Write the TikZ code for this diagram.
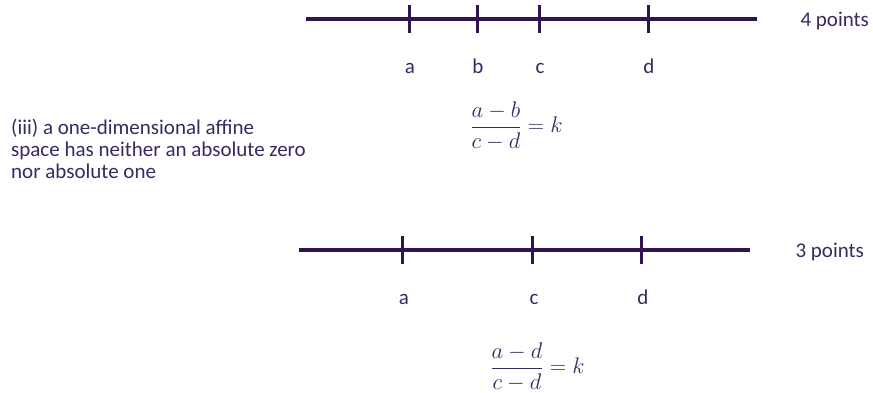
\documentclass[tikz,border=0pt]{standalone}
\usepackage{amsmath}
\usepackage{graphicx}
\usepackage{fontspec}
\setmainfont{Carlito}
\usepackage{tikz}
\usetikzlibrary{positioning}
\definecolor{LinePurple}{HTML}{2F1450}
\definecolor{TextPurple}{HTML}{3B2862}
\newcommand{\ratiobox}[1]{\scalebox{1.09}{$\dfrac#1=k$}}

\begin{document}
\begin{tikzpicture}[x=1pt, y=-1pt, font=\fontsize{21}{22}\selectfont, text=TextPurple,
  numline/.style={draw=LinePurple, line width=4pt},
  tickmark/.style={draw=LinePurple, line width=3pt},
  ptlabel/.style={anchor=base},
  ratio/.style={inner sep=1pt}]
  \useasboundingbox (0,0) rectangle (873,392);
  % upper line, four points
  \draw[numline] (306,18.5) coordinate (top0) -- (757,18.5) coordinate (top1);
  \foreach \x/\n in {409/a,477/b,539/c,648/d}{
    \draw[tickmark] (\x,5) -- (\x,33);
    \node[ptlabel] (top\n) at (\x+1,73) {\n};
  }
  \node[anchor=base west] (four) at (797,26) {4 points};
  % ratio for four points
  \node[ratio] (eqtop) at (516.5,126) {\ratiobox{{a-b}{c-d}}};
  % side remark
  \node[anchor=base west, align=left, inner sep=0pt] (remark) at (11,178)
    {(iii) a one-dimensional affine\\space has neither an absolute zero\\nor absolute one};
  % lower line, three points
  \draw[numline] (299,250) coordinate (bot0) -- (750,250) coordinate (bot1);
  \foreach \x/\n in {402/a,532/c,641/d}{
    \draw[tickmark] (\x,236) -- (\x,264);
    \node[ptlabel] (bot\n) at (\x+2,304) {\n};
  }
  \node[anchor=base west] (three) at (792,257) {3 points};
  % ratio for three points
  \node[ratio] (eqbot) at (537.5,367) {\ratiobox{{a-d}{c-d}}};
\end{tikzpicture}
\end{document}
